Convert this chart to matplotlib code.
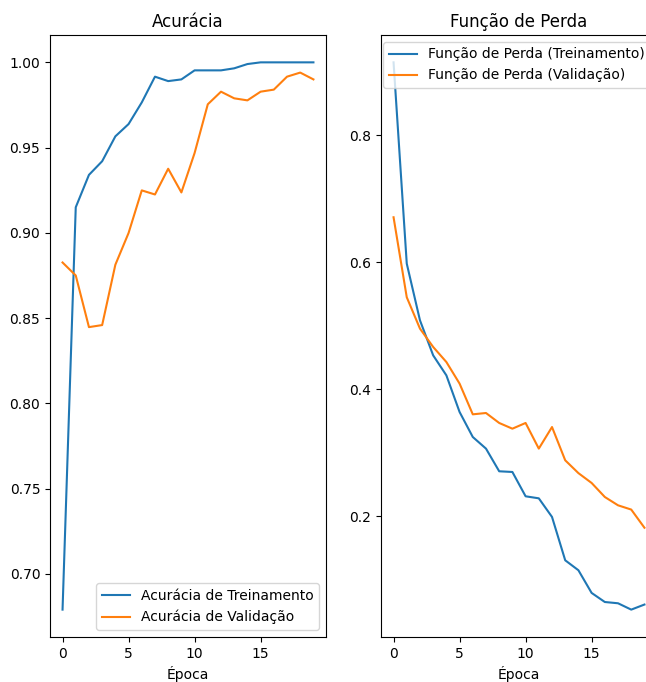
import matplotlib
matplotlib.use('Agg')
import matplotlib.pyplot as plt

# epochs
epocas = list(range(20))

# accuracy values
acc_treino = [0.679, 0.915, 0.934, 0.942, 0.9566, 0.9638, 0.9765, 0.9916, 0.989, 0.990,
              0.9953, 0.9953, 0.9953, 0.9965, 0.999, 1.0, 1.0, 1.0, 1.0, 1.0]
acc_valid = [0.8826, 0.875, 0.8447, 0.8459, 0.8813, 0.8999, 0.9249, 0.9225, 0.9376, 0.9237,
             0.9468, 0.9754, 0.9828, 0.9789, 0.9777, 0.9828, 0.984, 0.9916, 0.994, 0.990]

# loss values
loss_treino = [0.915, 0.598, 0.5087, 0.4535, 0.422, 0.3643, 0.3249, 0.3066, 0.2709, 0.2698,
               0.2315, 0.2283, 0.199, 0.1307, 0.115, 0.0793, 0.065, 0.063, 0.053, 0.061]
loss_valid = [0.671, 0.545, 0.4956, 0.4667, 0.443, 0.409, 0.3606, 0.3627, 0.347, 0.338,
              0.347, 0.3066, 0.3406, 0.2882, 0.268, 0.2525, 0.2304, 0.2173, 0.2106, 0.182]

fig = plt.figure(figsize=(6.46, 6.82), dpi=100)

# left: accuracy
ax1 = fig.add_axes([0.0774, 0.066, 0.4272, 0.8827])
ax1.plot(epocas, acc_treino, label='Acurácia de Treinamento')
ax1.plot(epocas, acc_valid, label='Acurácia de Validação')
ax1.legend(loc='lower right')
ax1.set_title('Acurácia')
ax1.set_xlabel('Época')

# right: loss (runs past the right edge of the image, as in the original)
ax2 = fig.add_axes([0.5898, 0.066, 0.4272, 0.8827])
ax2.plot(epocas, loss_treino, label='Função de Perda (Treinamento)')
ax2.plot(epocas, loss_valid, label='Função de Perda (Validação)')
ax2.legend(loc='upper right')
ax2.set_title('Função de Perda')
ax2.set_xlabel('Época')

fig.savefig('out.png', dpi=100)
